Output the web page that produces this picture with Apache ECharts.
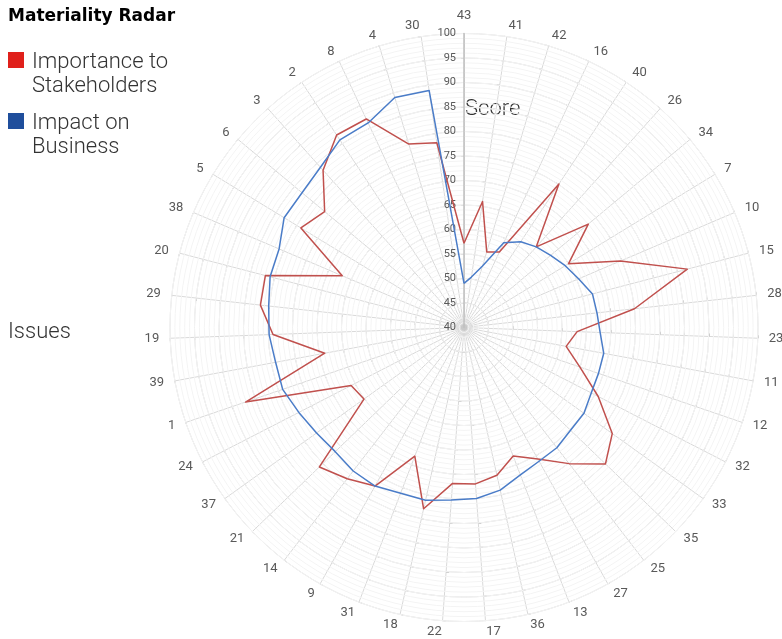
<!DOCTYPE html>
<html>
<head>
<meta charset="utf-8">
<script src="https://cdn.jsdelivr.net/npm/echarts@6/dist/echarts.min.js"></script>
<style>
    html, body { margin: 0; padding: 0; background: #fff; }
    #chart { width: 782px; height: 639px; }
</style>
</head>
<body>
<div id="chart"></div>
<script>
// issues, clockwise from the top
var issues = ['43', '41', '42', '16', '40', '26', '34', '7', '10', '15', '28', '23', '11', '12', '32',
    '33', '35', '25', '27', '13', '36', '17', '22', '18', '31', '9', '14', '21', '37', '24', '1',
    '39', '19', '29', '20', '38', '5', '6', '3', '2', '8', '4', '30'];
var stakeholders = [57.2, 66.0, 56.1, 57.0, 75.1, 62.1, 73.0, 65.0, 74.7, 87.1, 75.0, 63.1, 61.2, 65.0, 70.8,
    77.2, 80.1, 75.1, 70.8, 68.1, 70.9, 72.0, 71.9, 77.9, 68.1, 77.1, 79.0, 81.0, 65.1, 65.9, 87.1,
    68.9, 79.0, 81.8, 81.9, 67.0, 79.0, 77.0, 83.1, 87.1, 87.0, 79.1, 78.1];
var business = [49.0, 50.4, 53.1, 59.1, 61.0, 62.1, 63.0, 64.2, 65.4, 67.1, 67.3, 67.8, 69.0, 69.0, 69.2,
    70.1, 70.2, 71.0, 71.3, 72.2, 74.0, 75.0, 75.3, 76.1, 76.2, 77.1, 77.0, 76.5, 77.0, 77.9, 79.1,
    79.1, 79.8, 80.1, 80.9, 81.0, 83.0, 83.0, 83.9, 85.9, 86.1, 89.0, 88.9];
var scoreMin = 40, scoreMax = 100;

// radar goes counter-clockwise, so flip everything after the first spoke
function ccw(arr) {
    return [arr[0]].concat(arr.slice(1).reverse());
}

var center = [464, 327.5];
var radius = 294;

var chart = echarts.init(document.getElementById('chart'));
var option = {
    animation: false,
    textStyle: { fontFamily: 'Roboto, sans-serif' },
    polar: { center: center, radius: radius },
    angleAxis: {
        type: 'value', startAngle: 90, min: 0, max: 360,
        axisLine: { show: false }, axisTick: { show: false },
        axisLabel: { show: false }, splitLine: { show: false }
    },
    radiusAxis: {
        type: 'value', min: scoreMin, max: scoreMax, interval: 1, z: 1,
        axisLine: { show: true, lineStyle: { color: '#bfbfbf', width: 1.5 } },
        axisTick: { show: false },
        axisLabel: {
            color: '#595959', fontSize: 11, margin: 8,
            formatter: function (v) { return v % 5 === 0 ? v : ''; }
        },
        splitLine: { show: true, lineStyle: { color: '#f4f4f4', width: 1 } }
    },
    radar: {
        center: center,
        radius: radius,
        startAngle: 90,
        shape: 'circle',
        splitNumber: 12,
        nameGap: 11,
        axisName: { color: '#595959', fontSize: 13 },
        indicator: ccw(issues).map(function (n) {
            return { name: n, min: scoreMin, max: scoreMax };
        }),
        axisLine: { lineStyle: { color: '#d9d9d9' } },
        axisTick: { show: true, length: 3, lineStyle: { color: '#c8c8c8' } },
        splitLine: { lineStyle: { color: '#d9d9d9' } },
        splitArea: { show: false }
    },
    series: [{
        type: 'radar',
        symbol: 'none',
        z: 3,
        data: [
            { name: 'Importance to Stakeholders', value: ccw(stakeholders),
              lineStyle: { color: '#c0504d', width: 1.5 } },
            { name: 'Impact on Business', value: ccw(business),
              lineStyle: { color: '#4a7cc8', width: 1.5 } }
        ]
    }],
    graphic: [
        { type: 'text', left: 8, top: 8,
          style: { text: 'Materiality Radar', font: 'bold 17px "DejaVu Sans", sans-serif', fill: '#000' } },
        { type: 'rect', left: 8, top: 52, shape: { width: 16, height: 16 }, style: { fill: '#e0201b' } },
        { type: 'text', left: 32, top: 50,
          style: { text: 'Importance to\nStakeholders', font: '300 22px Roboto, sans-serif',
                   lineHeight: 24, fill: '#333' } },
        { type: 'rect', left: 8, top: 113, shape: { width: 16, height: 16 }, style: { fill: '#1f4e9c' } },
        { type: 'text', left: 32, top: 111,
          style: { text: 'Impact on\nBusiness', font: '300 22px Roboto, sans-serif',
                   lineHeight: 24, fill: '#333' } },
        { type: 'text', left: 465, top: 98,
          style: { text: 'Score', font: '300 22px Roboto, sans-serif', fill: '#333' } },
        { type: 'text', left: 8, top: 321,
          style: { text: 'Issues', font: '300 22px Roboto, sans-serif', fill: '#333' } }
    ]
};
chart.setOption(option);
</script>
</body>
</html>
